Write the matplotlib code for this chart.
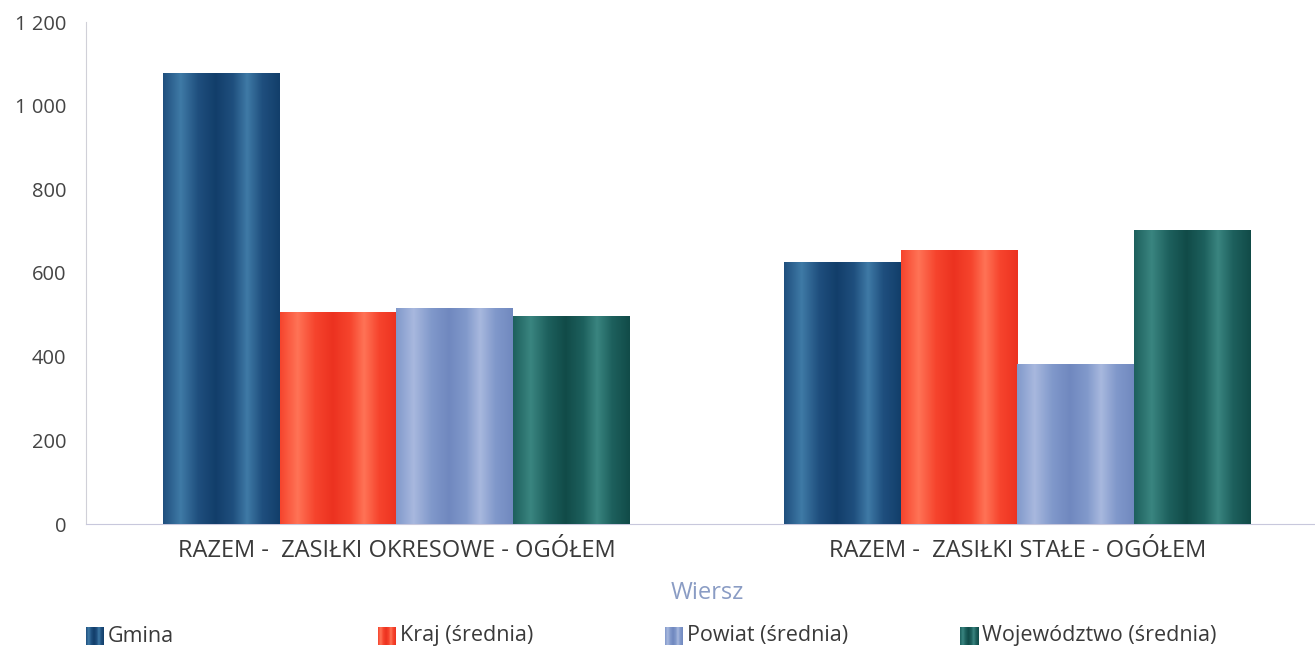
import matplotlib
matplotlib.use("Agg")
import matplotlib.pyplot as plt
import numpy as np
from matplotlib.colors import LinearSegmentedColormap, to_rgb

categories = ["RAZEM -  ZASIŁKI OKRESOWE - OGÓŁEM", "RAZEM -  ZASIŁKI STAŁE - OGÓŁEM"]
series_names = ["Gmina", "Kraj (średnia)", "Powiat (średnia)", "Województwo (średnia)"]
gmina = [1078, 626]
kraj = [507, 655]
powiat = [516, 382]
wojewodztwo = [497, 702]
yticks = [0, 200, 400, 600, 800, 1000, 1200]
ytick_labels = ["0", "200", "400", "600", "800", "1 000", "1 200"]

series_values = [gmina, kraj, powiat, wojewodztwo]
# (dark, base, light) per series
palette = [
    ("#123e6a", "#1f4f7e", "#3f7aa6"),
    ("#ec3220", "#f6442d", "#ff7356"),
    ("#7088bf", "#8199cb", "#a8b8de"),
    ("#114b48", "#1d605d", "#3a8580"),
]

def make_cmap(dark, base, light):
    stops = [(0.0, base), (0.15, light), (0.3, base), (0.45, dark),
             (0.6, base), (0.72, light), (0.85, base), (1.0, dark)]
    return LinearSegmentedColormap.from_list("g", [(p, to_rgb(c)) for p, c in stops])

cmaps = [make_cmap(*p) for p in palette]
grad = np.linspace(0, 1, 256).reshape(1, -1)

plt.rcParams['font.family'] = ['Open Sans', 'DejaVu Sans']
fig = plt.figure(figsize=(13.15, 6.48), dpi=100)
ax = fig.add_axes([86/1315, 1 - 524/648, (1328-86)/1315, (524-22)/648])

x = np.arange(len(categories))
bw = 0.188
n = len(series_values)
for i, vals in enumerate(series_values):
    offs = (i - (n - 1) / 2) * bw
    bars = ax.bar(x + offs, vals, width=bw, color=palette[i][1], zorder=2, linewidth=0)
    for r in bars:
        bx, bwid, bh = r.get_x(), r.get_width(), r.get_height()
        im = ax.imshow(grad, extent=[bx, bx + bwid, 0, bh], aspect='auto',
                       cmap=cmaps[i], zorder=3, interpolation='bilinear')
        im.set_clip_path(r)

ax.set_xlim(-0.5, 1.5)
ax.set_ylim(0, 1200)
ax.set_aspect('auto')
ax.set_xticks(x)
ax.set_xticklabels(categories, fontsize=17, color="#3a3a3a")
ax.set_yticks(yticks)
ax.set_yticklabels(ytick_labels, fontsize=14.5, color="#444444")
ax.tick_params(axis='both', length=0)
ax.tick_params(axis='y', pad=14)
ax.tick_params(axis='x', pad=11)
for s in ['top', 'right']:
    ax.spines[s].set_visible(False)
ax.spines['left'].set_color("#d0d0d8")
ax.spines['bottom'].set_color("#c8c8dc")
ax.set_xlabel("Wiersz", fontsize=17, color="#8a9cc4", labelpad=13)

# legend
leg_x = [86, 378, 665, 960]
for i, name in enumerate(series_names):
    lx = leg_x[i]
    lax = fig.add_axes([lx/1315, 1 - 645/648, 18/1315, 18/648])
    lax.imshow(grad, aspect='auto', cmap=cmaps[i], extent=[0, 1, 0, 1])
    lax.axis('off')
    fig.text((lx + 22)/1315, 1 - 636/648, name, fontsize=15.5, color="#3a3a3a",
             va='center', ha='left')

fig.savefig("out.png", dpi=100)
